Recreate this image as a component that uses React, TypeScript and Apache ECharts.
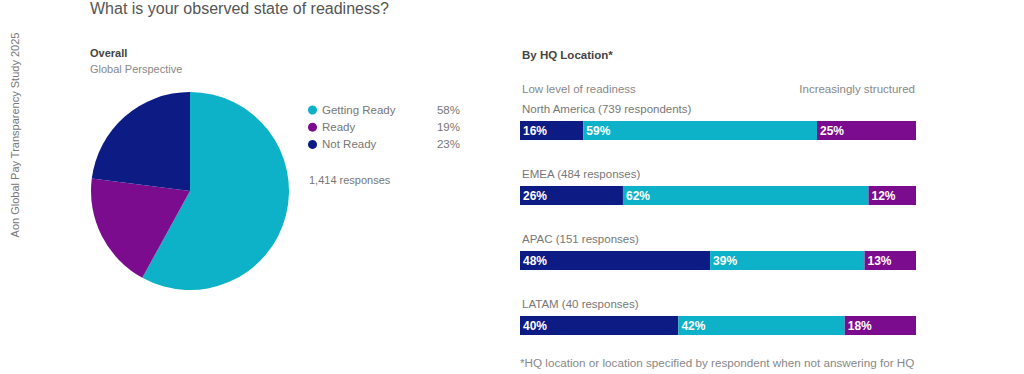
import React, { useEffect, useRef } from "react";
import * as echarts from "echarts";

const FONT = "'Liberation Sans', Arial, sans-serif";
const NAVY = "#0D1C84";
const CYAN = "#0DB2C8";
const PURPLE = "#7C0C8E";

const pieNames = ["Getting Ready", "Ready", "Not Ready"];
const pieValues = [58, 19, 23];
const pieColors = [CYAN, PURPLE, NAVY];

const regions = [
  "North America (739 respondents)",
  "EMEA (484 responses)",
  "APAC (151 responses)",
  "LATAM (40 responses)",
];
const notReady = [16, 26, 48, 40];
const gettingReady = [59, 62, 39, 42];
const ready = [25, 12, 13, 18];

export default function App() {
  const ref = useRef<HTMLDivElement>(null);
  useEffect(() => {
    document.body.style.margin = "0";
    const chart = echarts.init(ref.current!, null, { renderer: "svg" });
    const gridTop = 98;
    const band = 65;
    const regionTexts = regions.map((r, i) => ({
      type: "text",
      left: 522,
      top: gridTop + i * band + band / 2 - 28,
      style: { text: r, fill: "#777", font: `11.5px ${FONT}` },
    }));
    const barLabel = {
      show: true,
      position: "insideLeft",
      distance: 3,
      formatter: "{c}%",
      color: "#fff",
      fontWeight: "bold",
      fontSize: 12,
      fontFamily: FONT,
    };
    chart.setOption({
      animation: false,
      textStyle: { fontFamily: FONT },
      legend: {
        orient: "vertical",
        left: 303,
        top: 99,
        itemWidth: 9,
        itemHeight: 9,
        itemGap: 5.2,
        icon: "circle",
        selectedMode: false,
        data: pieNames,
        formatter: (name: string) => {
          const idx = pieNames.indexOf(name);
          return `{n|${name}}{v|${pieValues[idx]}%}`;
        },
        textStyle: {
          color: "#777",
          fontSize: 11.5,
          rich: {
            n: { width: 100, fontSize: 11.5, color: "#777", fontFamily: FONT },
            v: { width: 38, align: "right", fontSize: 11.5, color: "#777", fontFamily: FONT },
          },
        },
      },
      grid: { left: 520, width: 396, top: gridTop, height: band * 4 },
      xAxis: { type: "value", min: 0, max: 100, show: false },
      yAxis: { type: "category", data: regions, inverse: true, show: false },
      series: [
        {
          type: "pie",
          center: [190, 191],
          radius: 99,
          startAngle: 90,
          clockwise: true,
          label: { show: false },
          labelLine: { show: false },
          itemStyle: { borderWidth: 0 },
          data: pieNames.map((n, i) => ({ name: n, value: pieValues[i], itemStyle: { color: pieColors[i] } })),
        },
        { type: "bar", name: "bNotReady", stack: "s", barWidth: 19, data: notReady, itemStyle: { color: NAVY }, label: barLabel },
        { type: "bar", name: "bGetting", stack: "s", barWidth: 19, data: gettingReady, itemStyle: { color: CYAN }, label: barLabel },
        { type: "bar", name: "bReady", stack: "s", barWidth: 19, data: ready, itemStyle: { color: PURPLE }, label: barLabel },
      ],
      graphic: [
        {
          type: "text",
          left: 90,
          top: 0,
          style: { text: "What is your observed state of readiness?", fill: "#555", font: `16px ${FONT}` },
        },
        {
          type: "text",
          x: 15,
          y: 135,
          rotation: Math.PI / 2,
          style: {
            text: "Aon Global Pay Transparency Study 2025",
            fill: "#777",
            font: `11px ${FONT}`,
            align: "center",
            verticalAlign: "middle",
          },
        },
        { type: "text", left: 90, top: 47, style: { text: "Overall", fill: "#444", font: `bold 11px ${FONT}` } },
        { type: "text", left: 90, top: 63, style: { text: "Global Perspective", fill: "#888", font: `11px ${FONT}` } },
        { type: "text", left: 309, top: 174, style: { text: "1,414 responses", fill: "#777", font: `11px ${FONT}` } },
        { type: "text", left: 522, top: 49, style: { text: "By HQ Location*", fill: "#444", font: `bold 11.5px ${FONT}` } },
        { type: "text", left: 522, top: 83, style: { text: "Low level of readiness", fill: "#888", font: `11.5px ${FONT}` } },
        {
          type: "text",
          x: 915,
          y: 83,
          style: { text: "Increasingly structured", fill: "#888", font: `11.5px ${FONT}`, align: "right" },
        },
        ...regionTexts,
        {
          type: "text",
          left: 520,
          top: 356,
          style: {
            text: "*HQ location or location specified by respondent when not answering for HQ",
            fill: "#888",
            font: `11.7px ${FONT}`,
          },
        },
      ],
    });
    return () => chart.dispose();
  }, []);
  return <div ref={ref} style={{ width: 1024, height: 374 }} />;
}
